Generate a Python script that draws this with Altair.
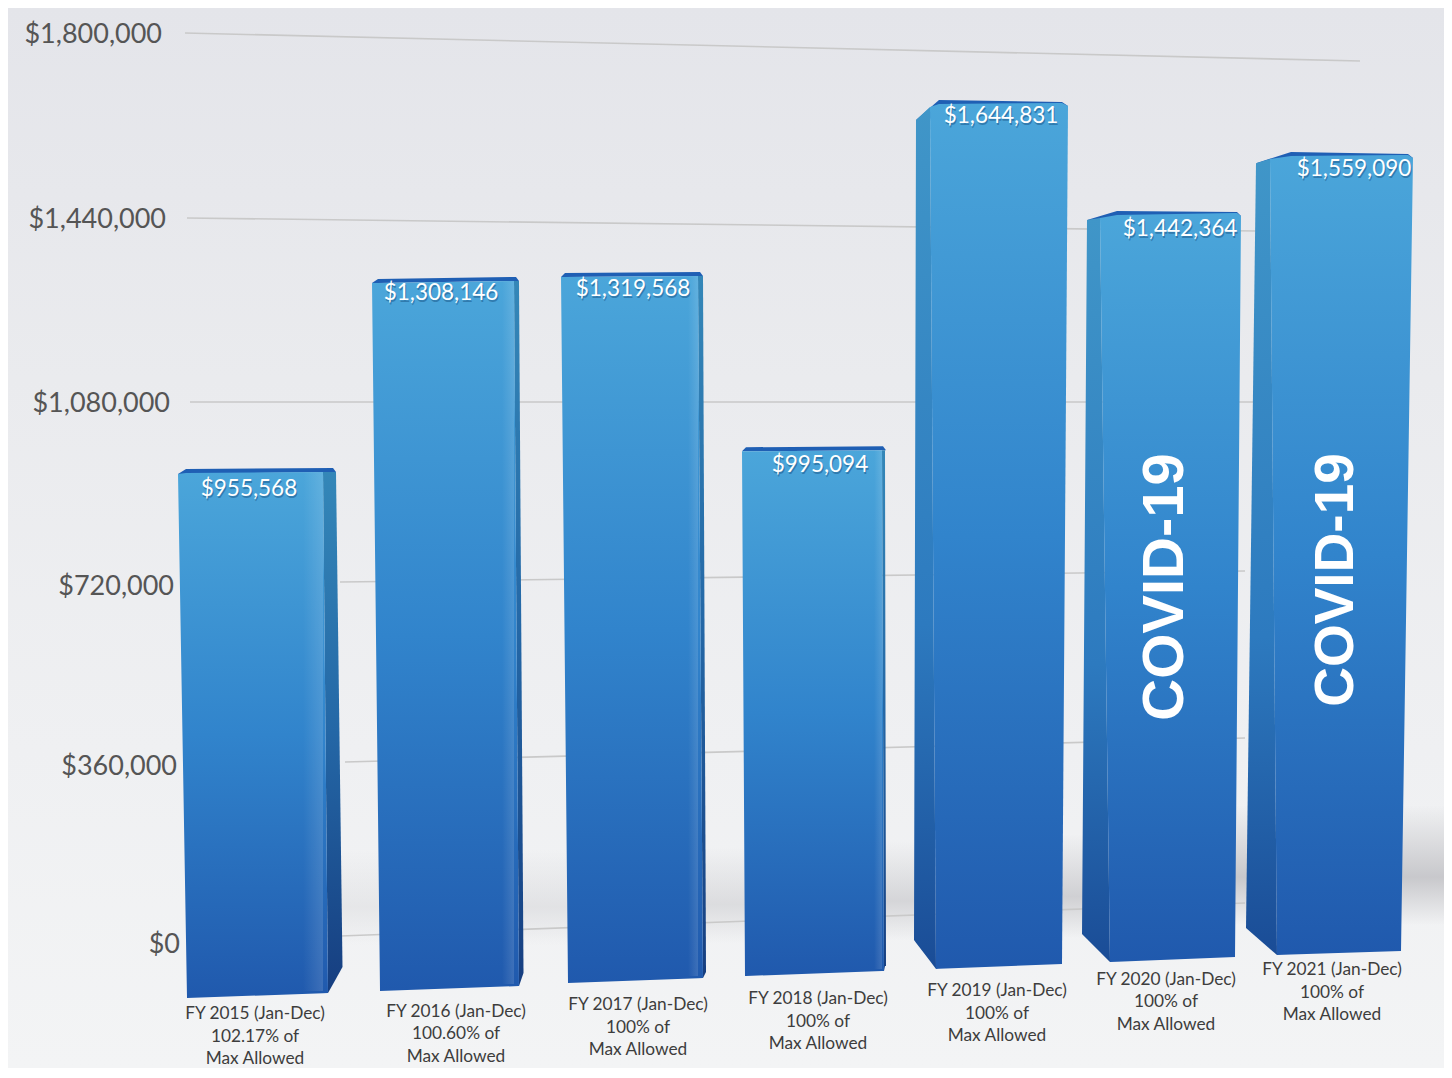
import altair as alt
import numpy as np
import pandas as pd

# ---------- chart values ----------
years = ["FY 2015", "FY 2016", "FY 2017", "FY 2018", "FY 2019", "FY 2020", "FY 2021"]
pct_allowed = ["102.17%", "100.60%", "100%", "100%", "100%", "100%", "100%"]
values = [955568, 1308146, 1319568, 995094, 1644831, 1442364, 1559090]
covid = ["FY 2020", "FY 2021"]

# perspective corrections (dollars on the value scale)
rim_shift = [-18000, 5300, 5700, -14500, 22700, 5500, 5500]
rim_tilt = [2000, 4000, 2000, 2000, -4000, -2000, -4000]
floor_left = [-108800, -94900, -79100, -65300, -51400, -37600, -23700]
floor_right = [-98900, -85100, -69200, -55400, -41500, -27700, -15800]
corner = [-47500, -59300, -57400, -45500, 5900, 17800, 29700]
shoulder = [10000, 8000, 8000, 8000, 39600, 18000, 22000]

# position along the receding floor, per bar
outer_left_top = [178, 372, 561, 742, 916, 1087, 1256]
outer_left_low = [187, 380, 568, 745, 914, 1082, 1246]
face_left_top = [178, 372, 561, 742, 930, 1100, 1270]
face_left_low = [187, 380, 568, 745, 936, 1110, 1277]
face_right_top = [323, 514, 698, 882, 1068, 1241, 1413]
face_right_low = [328, 519, 703, 884, 1062, 1235, 1401]
outer_right_top = [336, 519, 703, 886, 1068, 1241, 1413]
outer_right_low = [342.5, 523.5, 706, 885, 1062, 1235, 1401]
rim_left = [186, 378, 565, 746, 939, 1117, 1291]
rim_right = [333, 516, 700, 883, 1062, 1237, 1408]
sheen_width = [20, 12, 10, 8]

label_pos = [255, 456, 638, 818, 997, 1166, 1332]
label_level = [-136500, -132500, -118700, -106900, -91000, -69200, -49500]
value_pos = [249, 441, 633, 820, 1001, 1180, 1354]
value_level = [901968, 1289656, 1297568, 949440, 1639762, 1416248, 1534928]
covid_pos = [1166, 1336]
covid_level = [704168, 718014]
covid_size = [58, 55]

tick_values = [1800000, 1440000, 1080000, 720000, 360000, 0]
tick_pos = [162, 166, 170, 174, 177, 180]
tick_level = [1800000, 1434050, 1070100, 708000, 352000, 0]
grid_x_start = [185, 187, 190, 340, 345, 340]
grid_x_end = [1360, 1256, 1256, 1245, 1245, 1245]
grid_level_start = [1800000, 1434050, 1070100, 714000, 358000, 13800]
grid_level_end = [1744600, 1408300, 1070100, 735800, 405500, 79100]

# floor shadow patches, seams hidden behind the bars
shade_left = [340, 450, 640, 820, 1000, 1160]
shade_right = [450, 640, 820, 1000, 1160, 1444]
shade_top = [184000, 184000, 190000, 200000, 215000, 273000]
shade_low = [-4000, -4000, 0, 5000, 10000, 35000]
shade_alpha = [0.22, 0.3, 0.42, 0.55, 0.65, 0.8]

X_DOM = [8, 1444]
Y_DOM = [-247250, 1849430]
W, H = 1436, 1060
x_scale = alt.Scale(domain=X_DOM, range=[0, W], nice=False, zero=False)
y_scale = alt.Scale(domain=Y_DOM, range=[H, 0], nice=False, zero=False)
X = lambda f: alt.X(f, type="quantitative", scale=x_scale, axis=None)
Y = lambda f: alt.Y(f, type="quantitative", scale=y_scale, axis=None)


def poly(bar, upper, lower):
    """x-monotone outline -> rows for an area mark"""
    xs = sorted({p[0] for p in upper} | {p[0] for p in lower})
    ux, uy = zip(*upper)
    lx, ly = zip(*lower)
    return [
        dict(bar=bar, px=x, up=float(np.interp(x, ux, uy)), dn=float(np.interp(x, lx, ly)))
        for x in xs
    ]


caps, sides_r, sides_l, fronts, sheens = [], [], [], [], []
for i, y0 in enumerate(years):
    rl = values[i] + rim_shift[i]
    rr = rl + rim_tilt[i]
    sh = rl - shoulder[i]
    er = rr - 8000
    ft = rl - 8000
    caps += poly(
        y0,
        [(outer_left_top[i], sh), (rim_left[i], rl), (rim_right[i], rr), (outer_right_top[i], er)],
        [(outer_left_top[i], sh), (outer_right_top[i], er)],
    )
    if i <= 3:
        sides_r += poly(
            y0,
            [(face_right_top[i], er), (outer_right_top[i], er), (outer_right_low[i], corner[i])],
            [(face_right_top[i], er), (face_right_low[i], floor_right[i]), (outer_right_low[i], corner[i])],
        )
        front_up = [(face_left_top[i], sh), (rim_left[i], ft), (face_right_top[i], er)]
        sheens += poly(
            y0,
            [(face_right_top[i] - sheen_width[i], er), (face_right_top[i], er)],
            [(face_right_top[i] - sheen_width[i], floor_right[i] + 4000), (face_right_top[i], floor_right[i] + 4000)],
        )
    else:
        sides_l += poly(
            y0,
            [(outer_left_low[i], corner[i]), (outer_left_top[i], sh),
             (face_left_top[i], ft - 6000), (face_left_low[i], floor_left[i])],
            [(outer_left_low[i], corner[i]), (face_left_low[i], floor_left[i])],
        )
        front_up = [(face_left_top[i], ft - 6000), (rim_left[i], ft), (rim_right[i], rr - 2000),
                    (face_right_top[i], er)]
    front_low = [(face_left_top[i], front_up[0][1]), (face_left_low[i], floor_left[i]),
                 (face_right_low[i], floor_right[i])]
    if face_right_low[i] > face_right_top[i]:
        front_up.append((face_right_low[i], floor_right[i]))
    elif face_right_low[i] < face_right_top[i]:
        front_low.append((face_right_top[i], er))
    fronts += poly(y0, front_up, front_low)

grad = lambda stops, horizontal=False: alt.LinearGradient(
    gradient="linear", x1=0, y1=0, x2=1 if horizontal else 0, y2=0 if horizontal else 1,
    stops=[alt.GradientStop(offset=o, color=c) for o, c in stops],
)


def area(rows, fill):
    return alt.Chart(pd.DataFrame(rows)).mark_area(fill=fill).encode(
        x=X("px"), y=Y("up"), y2=alt.Y2("dn"), detail="bar:N",
    )


# page backdrop
backdrop = area(
    poly("bg", [(X_DOM[0], Y_DOM[1]), (X_DOM[1], Y_DOM[1])], [(X_DOM[0], Y_DOM[0]), (X_DOM[1], Y_DOM[0])]),
    grad([(0, "#e4e5ea"), (0.35, "#eaebee"), (0.7, "#eff0f2"), (1, "#f3f4f5")]),
)
# soft floor shadow behind the bars
shades = [
    area(
        poly(f"s{k}", [(shade_left[k], shade_top[k]), (shade_right[k], shade_top[k])],
             [(shade_left[k], shade_low[k]), (shade_right[k], shade_low[k])]),
        grad([(0, "rgba(190,190,194,0)"),
              (0.6, f"rgba(190,190,194,{shade_alpha[k]})"),
              (1, "rgba(190,190,194,0)")]),
    )
    for k in range(len(shade_left))
]

grid_rows = []
for j, t in enumerate(tick_values):
    grid_rows.append(dict(tick=t, px=grid_x_start[j], v=grid_level_start[j]))
    grid_rows.append(dict(tick=t, px=grid_x_end[j], v=grid_level_end[j]))
grid = alt.Chart(pd.DataFrame(grid_rows)).mark_line(color="#c9c9c9", strokeWidth=1.6).encode(
    x=X("px"), y=Y("v"), detail="tick:N"
)

tick_df = pd.DataFrame(dict(
    px=tick_pos, v=tick_level, t=[f"${t:,.0f}" for t in tick_values]
))
ticks = alt.Chart(tick_df).mark_text(
    align="right", baseline="middle", font="Lato", fontSize=27, color="#555555", dy=2,
).encode(x=X("px"), y=Y("v"), text="t:N")

cap_layer = area(caps, "#1f5fb4")
side_r_layer = area(sides_r, grad([(0, "#3487b8"), (0.5, "#2467a6"), (1, "#163e80")]))
side_l_layer = area(sides_l, grad([(0, "#4096c8"), (0.6, "#2d7abf"), (1, "#1a4c96")]))
front_layer = area(fronts, grad([(0, "#4ba6da"), (0.5, "#3184cc"), (1, "#2059ad")]))
sheen_layer = area(sheens, grad([(0, "rgba(255,255,255,0)"), (1, "rgba(255,255,255,0.13)")], horizontal=True))

cat_df = pd.DataFrame(dict(
    px=label_pos, v=label_level,
    t=[f"{y} (Jan-Dec)\n{p} of\nMax Allowed" for y, p in zip(years, pct_allowed)],
))
cats = alt.Chart(cat_df).mark_text(
    align="center", baseline="middle", font="Lato", fontSize=17.3, lineHeight=22.5,
    lineBreak="\n", color="#3d3d3d", dy=2,
).encode(x=X("px"), y=Y("v"), text="t:N")

val_df = pd.DataFrame(dict(px=value_pos, v=value_level, t=[f"${a:,.0f}" for a in values]))
val_shadow = alt.Chart(val_df).mark_text(
    align="center", baseline="middle", font="Lato", fontSize=22.5, dy=4, dx=1,
    color="#1c5a8c", opacity=0.55,
).encode(x=X("px"), y=Y("v"), text="t:N")
val_text = alt.Chart(val_df).mark_text(
    align="center", baseline="middle", font="Lato", fontSize=22.5, color="#ffffff", dy=2,
).encode(x=X("px"), y=Y("v"), text="t:N")

cov_df = pd.DataFrame(dict(px=covid_pos, v=covid_level, s=covid_size, t=["COVID-19" for _ in covid]))
cov_text = alt.Chart(cov_df).mark_text(
    align="center", baseline="middle", font="Liberation Sans", fontWeight="bold",
    angle=270, color="#ffffff",
).encode(x=X("px"), y=Y("v"), text="t:N", size=alt.Size("s:Q", scale=None, legend=None))

chart = alt.layer(
    backdrop, *shades, grid, ticks, cap_layer, side_r_layer, side_l_layer, front_layer, sheen_layer,
    cats, val_shadow, val_text, cov_text,
).properties(
    width=W, height=H, padding=0, background="#ffffff",
    autosize=alt.AutoSizeParams(type="none"),
).configure_view(stroke=None)

chart.save("out.html", embed_options={"renderer": "svg", "actions": False})
